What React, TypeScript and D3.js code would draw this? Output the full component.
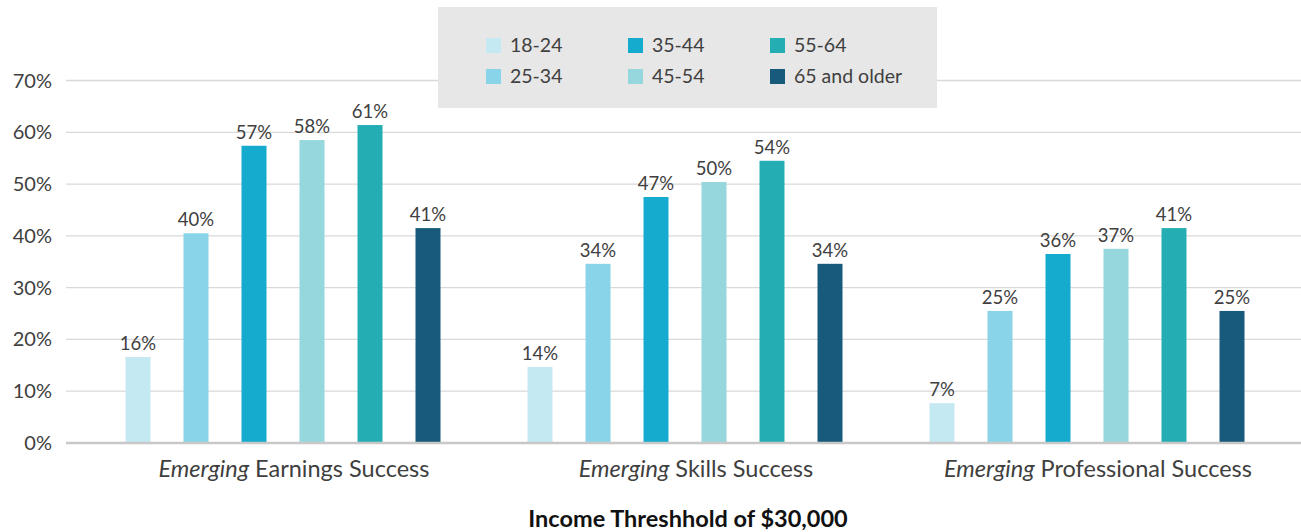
import React from "react";
import * as d3 from "d3";

const categories = ["Earnings", "Skills", "Professional"];
const seriesNames = ["18-24", "25-34", "35-44", "45-54", "55-64", "65 and older"];
const seriesColors = ["#c5e9f2", "#89d4e8", "#14abcf", "#95d7dc", "#24aeb4", "#175a7b"];
// values per series, one per category (bar heights)
const age1824 = [0.166, 0.147, 0.077];
const age2534 = [0.405, 0.346, 0.255];
const age3544 = [0.574, 0.475, 0.365];
const age4554 = [0.585, 0.504, 0.375];
const age5564 = [0.614, 0.545, 0.415];
const age65 = [0.415, 0.346, 0.255];
const seriesValues = [age1824, age2534, age3544, age4554, age5564, age65];
const yTicks = [0, 0.1, 0.2, 0.3, 0.4, 0.5, 0.6, 0.7];
const axisTitle = "Income Threshhold of $30,000";

const W = 1301;
const H = 532;
const FONT = "Lato, 'Open Sans', sans-serif";
const TEXT = "#404040";

export default function App() {
  const y = d3.scaleLinear().domain([0, 0.7]).range([443, 80.5]);
  const x0 = d3.scaleBand<string>().domain(categories).range([82, 1288]).padding(0);
  const step = 58;
  const n = seriesNames.length;
  const po = (x0.bandwidth() / step - n + 0.569) / 2;
  const x1 = d3
    .scaleBand<string>()
    .domain(seriesNames)
    .range([0, x0.bandwidth()])
    .paddingInner(0.569)
    .paddingOuter(po);
  const gridX0 = 66;
  const gridX1 = W;

  return (
    <div style={{ position: "absolute", left: 0, top: 0 }}>
      <svg width={W} height={H} style={{ display: "block", fontFamily: FONT }}>
        <rect x={0} y={0} width={W} height={H} fill="#ffffff" />
        {/* gridlines */}
        {yTicks.slice(1).map((t) => (
          <line key={t} x1={gridX0} x2={gridX1} y1={y(t)} y2={y(t)} stroke="#d9d9d9" strokeWidth={1.3} />
        ))}
        {/* y labels */}
        {yTicks.map((t) => (
          <text
            key={"l" + t}
            x={52}
            y={y(t)}
            dy="0.35em"
            textAnchor="end"
            fontSize={20}
            fill={TEXT}
          >
            {d3.format(".0%")(t)}
          </text>
        ))}
        {/* bars */}
        {categories.map((c, ci) => (
          <g key={c} transform={`translate(${x0(c)},0)`}>
            {seriesNames.map((s, si) => {
              const v = seriesValues[si][ci];
              const bx = x1(s)!;
              const bw = x1.bandwidth();
              return (
                <g key={s}>
                  <rect x={bx} y={y(v)} width={bw} height={y(0) - y(v)} fill={seriesColors[si]} />
                  <text
                    x={bx + bw / 2}
                    y={y(v) - 7}
                    textAnchor="middle"
                    fontSize={18.5}
                    fill={TEXT}
                  >
                    {Math.floor(v * 100) + "%"}
                  </text>
                </g>
              );
            })}
          </g>
        ))}
        {/* x axis line */}
        <line x1={gridX0} x2={gridX1} y1={y(0)} y2={y(0)} stroke="#c8c8c8" strokeWidth={2.5} />
        {/* category labels */}
        {categories.map((c) => (
          <text
            key={"c" + c}
            x={x0(c)! + x0.bandwidth() / 2 + 11}
            y={477}
            textAnchor="middle"
            fontSize={23.5}
            fill={TEXT}
          >
            <tspan fontStyle="italic">Emerging</tspan>
            {" " + c + " Success"}
          </text>
        ))}
        {/* axis title */}
        <text
          x={(x0.range()[0] + x0.range()[1]) / 2 + 3}
          y={527}
          textAnchor="middle"
          fontSize={23.5}
          fontWeight="bold"
          fill="#111111"
        >
          {axisTitle}
        </text>
        {/* legend */}
        <rect x={438} y={7} width={499} height={101} fill="#e7e7e7" />
        {seriesNames.map((s, i) => {
          const col = Math.floor(i / 2);
          const row = i % 2;
          const lx = 486 + col * 142;
          const ly = 38 + row * 31;
          return (
            <g key={"lg" + s}>
              <rect x={lx} y={ly} width={15} height={15} fill={seriesColors[i]} />
              <text x={lx + 24} y={ly + 7.5} dy="0.35em" fontSize={19.5} fill={TEXT}>
                {s}
              </text>
            </g>
          );
        })}
      </svg>
    </div>
  );
}
